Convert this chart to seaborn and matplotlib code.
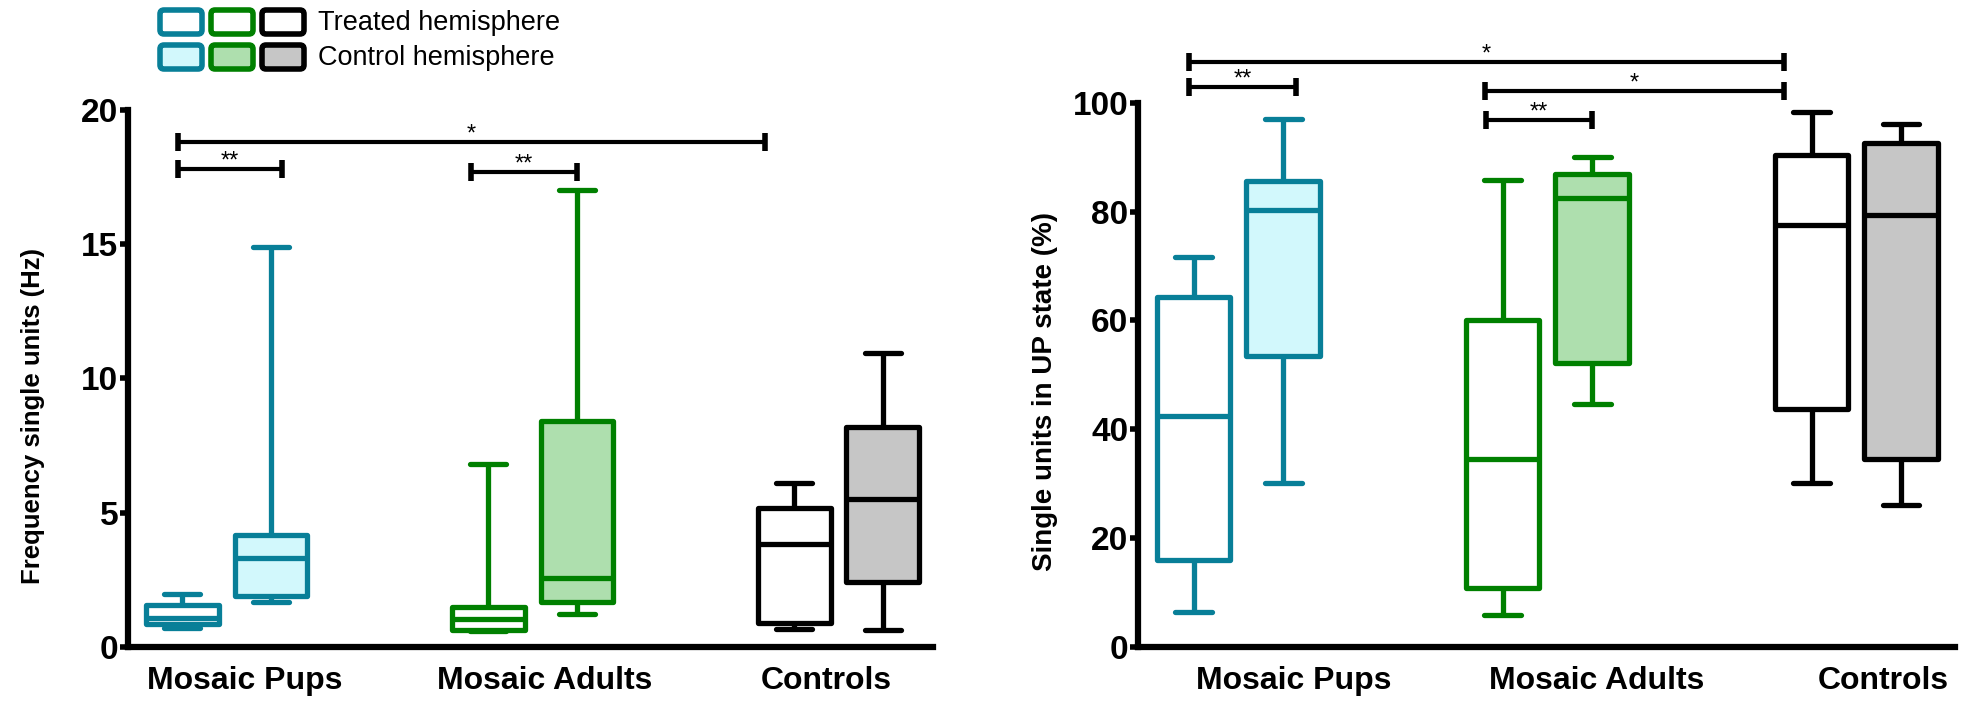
import numpy as np
import pandas as pd
import matplotlib
matplotlib.use("Agg")
import matplotlib.pyplot as plt
import seaborn as sns
from matplotlib.patches import FancyBboxPatch

groups = ["Mosaic Pups", "Mosaic Adults", "Controls"]
hemispheres = ["Treated hemisphere", "Control hemisphere"]

# five-number summaries: min, q1, median, q3, max
freq_treated = [
    [0.72, 0.86, 1.08, 1.58, 1.97],
    [0.60, 0.64, 1.03, 1.50, 6.80],
    [0.68, 0.90, 3.84, 5.16, 6.12],
]
freq_control = [
    [1.68, 1.90, 3.32, 4.18, 14.90],
    [1.24, 1.68, 2.58, 8.40, 17.00],
    [0.64, 2.42, 5.50, 8.20, 10.95],
]
up_treated = [
    [6.4, 16.0, 42.5, 64.4, 71.6],
    [5.8, 10.8, 34.6, 60.0, 85.8],
    [30.2, 43.8, 77.5, 90.4, 98.3],
]
up_control = [
    [30.1, 53.5, 80.3, 85.7, 97.0],
    [44.7, 52.2, 82.5, 87.0, 90.0],
    [26.0, 34.5, 79.3, 92.7, 96.2],
]

# significance brackets: (x start, x end, y, label)
freq_sig = [(-0.16, 1.76, 18.8, "*"), (-0.16, 0.18, 17.8, "**"), (0.80, 1.145, 17.7, "**")]
up_sig = [(-0.16, 1.765, 107.5, "*"), (-0.16, 0.186, 102.9, "**"),
          (0.797, 1.765, 102.2, "*"), (0.80, 1.144, 96.9, "**")]

edge_colors = ["#087F98", "#008000", "#000000"]
fill_treated = ["#FFFFFF", "#FFFFFF", "#FFFFFF"]
fill_control = ["#D2F8FC", "#AEDFAE", "#C6C6C6"]

sns.set_style("ticks")
plt.rcParams["font.family"] = ["Liberation Sans", "DejaVu Sans"]
plt.rcParams.update({"text.color": "black", "axes.labelcolor": "black",
                     "xtick.color": "black", "ytick.color": "black",
                     "axes.edgecolor": "black"})


def long_table(treated, control):
    rows = []
    for g, t, c in zip(groups, treated, control):
        rows += [(g, hemispheres[0], v) for v in t]
        rows += [(g, hemispheres[1], v) for v in c]
    return pd.DataFrame(rows, columns=["group", "hemisphere", "value"])


def panel(ax, df, top, yticks, ylabel, sig, xlim, label_pos, ylabel_xy, ylabel_size):
    sns.boxplot(data=df, x="group", y="value", hue="hemisphere", order=groups,
                hue_order=hemispheres, whis=(0, 100), width=0.58, gap=0.18,
                linewidth=3.8, fliersize=0, legend=False, ax=ax)
    fills = [fill_treated, fill_control]
    for h, cont in enumerate(ax.containers):
        whiskers = list(cont.whiskers)
        caps = list(cont.caps)
        for i, box in enumerate(cont.boxes):
            col = edge_colors[i]
            box.set_facecolor(fills[h][i])
            box.set_edgecolor(col)
            box.set_joinstyle("round")
            cont.medians[i].set_color(col)
            for ln in whiskers[2 * i:2 * i + 2] + caps[2 * i:2 * i + 2]:
                ln.set_color(col)

    for x0, x1, y, txt in sig:
        ax.plot([x0, x1], [y, y], color="black", lw=3, marker="|", ms=13, mew=4,
                clip_on=False, solid_capstyle="butt")
        ax.annotate(txt, xy=((x0 + x1) / 2, y), xytext=(0, 1), textcoords="offset points",
                    ha="center", va="baseline", fontsize=17, annotation_clip=False)

    ax.set_xlim(*xlim)
    ax.set_ylim(0, top)
    ax.set_yticks(yticks)
    ax.set_xticks(label_pos, groups)
    ax.set_xlabel("")
    ax.set_ylabel(ylabel, fontsize=ylabel_size, fontweight="bold")
    ax.yaxis.set_label_coords(*ylabel_xy)
    sns.despine(ax=ax)
    for s in ["left", "bottom"]:
        ax.spines[s].set_linewidth(4.5)
    ax.tick_params(axis="y", length=6, width=4, pad=1, labelsize=24)
    ax.tick_params(axis="x", length=0, pad=14, labelsize=23)
    for lab in ax.get_yticklabels() + ax.get_xticklabels():
        lab.set_fontweight("bold")


fig = plt.figure(figsize=(19.73, 7.03), dpi=100)
ax1 = fig.add_axes([0.0649, 0.0797, 0.408, 0.764])
ax2 = fig.add_axes([0.5768, 0.0797, 0.414, 0.774])

panel(ax1, long_table(freq_treated, freq_control), 20, [0, 5, 10, 15, 20],
      "Frequency single units (Hz)", freq_sig, (-0.322, 2.309),
      [0.06, 1.04, 1.96], (-0.103, 0.43), 18.5)
panel(ax2, long_table(up_treated, up_control), 100, [0, 20, 40, 60, 80, 100],
      "Single units in UP state (%)", up_sig, (-0.325, 2.319),
      [0.18, 1.16, 2.086], (-0.098, 0.47), 20)

# legend drawn in pixel coordinates on an overlay
lg = fig.add_axes([0, 0, 1, 1], facecolor="none")
lg.set_xlim(0, 1973)
lg.set_ylim(703, 0)
lg.axis("off")
row_y = [22, 57]
patch_x = [160, 211, 262]
fills = [fill_treated, fill_control]
for r, y in enumerate(row_y):
    for i, x in enumerate(patch_x):
        lg.add_patch(FancyBboxPatch((x, y - 12), 42, 24, boxstyle="round,pad=0,rounding_size=4",
                                    facecolor=fills[r][i], edgecolor=edge_colors[i], lw=4))
    lg.text(318, y + 1, hemispheres[r], fontsize=19.5, va="center", ha="left")

fig.savefig("out.png", dpi=100)
